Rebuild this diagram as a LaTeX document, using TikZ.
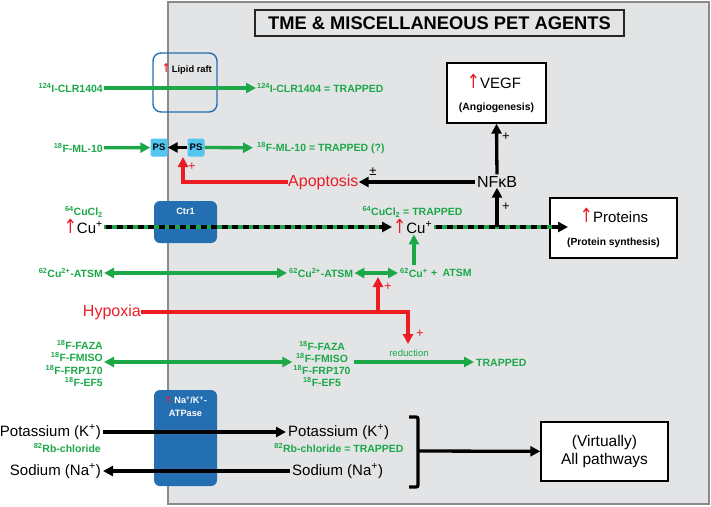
\documentclass[tikz,border=0pt]{standalone}
\usepackage{fontspec}
\setmainfont{Liberation Sans}
\newfontfamily\arrfont{DejaVu Sans}
\usetikzlibrary{arrows.meta}
\definecolor{grn}{RGB}{28,168,72}
\definecolor{rd}{RGB}{236,28,36}
\definecolor{bl}{RGB}{36,110,178}
\definecolor{psb}{RGB}{84,196,240}
\definecolor{pan}{RGB}{227,228,230}
\definecolor{edge}{RGB}{138,138,140}
\newcommand{\supx}[1]{\textsuperscript{#1}}
\newcommand{\fsz}[1]{\fontsize{#1}{#1}\selectfont}
\newcommand{\uparr}{{\arrfont\color{rd}\scalebox{1.05}[1.3]{↑}}}
\tikzset{
  gl/.style={font=\bfseries\fsz{10.5}, text=grn, inner sep=0pt},
  tip/.style={-{Triangle[length=10pt,width=10pt]}},
  dtip/.style={{Triangle[length=10pt,width=10pt]}-{Triangle[length=10pt,width=10pt]}},
  garrow/.style={grn, line width=3.3pt, tip},
  gdarrow/.style={grn, line width=3.3pt, dtip},
  barrow/.style={black, line width=3.3pt, tip},
  rarrow/.style={rd, line width=3.3pt, tip},
  rline/.style={rd, line width=3.3pt},
  bigtxt/.style={font=\fsz{15}, inner sep=0pt},
  whitebox/.style={draw=black, line width=1.4pt, fill=white},
  membox/.style={fill=bl, rounded corners=6pt},
  memtxt/.style={text=white, font=\bfseries\fsz{9.2}, inner sep=0pt, align=center},
  psbox/.style={fill=psb, rounded corners=2pt, minimum width=17pt, minimum height=18pt, inner sep=0pt, font=\bfseries\fsz{9.5}},
  plus/.style={font=\fsz{13}, inner sep=0pt},
  stack/.style={text=grn, inner sep=0pt, font=\bfseries\fontsize{10.5}{12.3}\selectfont},
}
\begin{document}
\begin{tikzpicture}[x=1pt,y=-1pt]
\useasboundingbox (0,0) rectangle (711,506);
% panel
\draw[fill=pan, draw=edge, line width=2.6pt] (168,2) rectangle (709,504);
% title
\node[draw=black!85, line width=1.2pt, fill=pan, minimum width=369pt, minimum height=26pt, inner sep=0pt, font=\bfseries\fsz{18.3}] (title) at (439.5,23) {TME \& MISCELLANEOUS PET AGENTS};

% lipid raft
\node[draw=bl, line width=1.4pt, rounded corners=8pt, minimum width=64pt, minimum height=59pt] (raft) at (185,82.5) {};
\node[font=\bfseries\fsz{9.3}, inner sep=0pt] (rafttxt) at (187,69) {\uparr\,Lipid raft};

% row 1
\node[gl, anchor=east] (clrL) at (103,88) {\supx{124}I-CLR1404};
\node[gl, anchor=west] (clrR) at (257,88) {\supx{124}I-CLR1404 = TRAPPED};
\draw[garrow, shorten >=1pt, shorten <=1pt] (clrL) -- (clrR);

% row 2
\node[gl, anchor=east] (mlL) at (103,148) {\supx{18}F-ML-10};
\node[psbox] (ps1) at (159,147.5) {PS};
\node[psbox] (ps2) at (196,147.5) {PS};
\node[gl, anchor=west] (mlR) at (257,148) {\supx{18}F-ML-10 = TRAPPED (?)};
\draw[garrow, shorten <=1pt] (mlL) -- (ps1);
\draw[barrow] (ps2) -- (ps1);
\draw[garrow, shorten >=4pt] (ps2) -- (mlR);

% apoptosis / NFkB
\node[font=\fsz{16}, text=rd, inner sep=0pt, anchor=west] (apop) at (288,182) {Apoptosis};
\node[font=\fsz{16}, inner sep=0pt] (nfkb) at (497,182) {NFκB};
\coordinate (psin) at (183,157);
\draw[rarrow] (apop.west) -| (psin);
\node[plus, text=rd] (p1) at (192,167) {+};
\draw[barrow, shorten <=2pt] (nfkb.west) -- (apop.east);
\node[plus] (pm) at (373,172) {±};

% VEGF
\node[whitebox, minimum width=99pt, minimum height=60pt] (vegf) at (496.5,93) {};
\node[font=\fsz{15}, inner sep=0pt] (vegft) at (494,81) {\uparr VEGF};
\node[font=\bfseries\fsz{10.4}, inner sep=0pt] (angio) at (496.5,108) {(Angiogenesis)};
\draw[barrow, shorten <=2pt] (nfkb.north) -- (vegf.south);
\node[plus] (p2) at (506,137) {+};

% row 3 copper
\node[gl, anchor=east] (cuclL) at (103,212) {\supx{64}CuCl\textsubscript{2}};
\node[bigtxt, anchor=east] (cuL) at (103,226) {\uparr Cu\supx{+}};
\node[membox, minimum width=63pt, minimum height=42pt] (ctr1) at (185.5,222) {};
\node[memtxt] (ctr1t) at (185.5,211) {Ctr1};
\node[gl, anchor=center] (cuclR) at (412.5,212) {\supx{64}CuCl\textsubscript{2} = TRAPPED};
\node[bigtxt, anchor=west] (cuR) at (393,226) {\uparr Cu\supx{+}};
\node[whitebox, minimum width=127pt, minimum height=60pt] (prot) at (613.5,228) {};
\node[font=\fsz{15}, inner sep=0pt] (prott) at (614,215) {\uparr Proteins};
\node[font=\bfseries\fsz{10.3}, inner sep=0pt] (protsyn) at (613.5,243) {(Protein synthesis)};
\coordinate (protin) at (568,227);
\coordinate (cuLe) at (104,227);
\coordinate (cuRw) at (392,227);
\coordinate (cuRe) at (434,227);
\draw[grn, line width=3.3pt, shorten >=8pt] (cuLe) -- (cuRw);
\draw[black, line width=3.3pt, dash pattern=on 6pt off 4.5pt, tip, shorten <=2pt] (cuLe) -- (cuRw);
\draw[grn, line width=3.3pt, shorten >=8pt] (cuRe) -- (protin);
\draw[black, line width=3.3pt, dash pattern=on 6pt off 4.5pt, tip, shorten <=2pt] (cuRe) -- (protin);
\coordinate (j1) at (497,227);
\draw[barrow] (j1) -- (nfkb.south);
\node[plus] (p3) at (506,207) {+};

% row 4 ATSM
\node[gl, anchor=east] (atsmL) at (103,273) {\supx{62}Cu\supx{2+}-ATSM};
\node[gl, anchor=west] (atsmM) at (289,273) {\supx{62}Cu\supx{2+}-ATSM};
\node[gl, anchor=west] (cu62) at (400,273) {\supx{62}Cu\supx{+}};
\node[gl, anchor=west] (atsmR) at (431,273) {+\enspace ATSM};
\draw[gdarrow, shorten <=1pt, shorten >=2pt] (atsmL) -- (atsmM);
\draw[gdarrow, shorten <=1pt, shorten >=2pt] (atsmM) -- (cu62);
\draw[garrow, shorten <=3pt, shorten >=1pt] (cu62.north) -- (cu62.north |- cuR.south);

% hypoxia
\node[font=\fsz{16}, text=rd, inner sep=0pt, anchor=east] (hyp) at (141,312) {Hypoxia};
\coordinate (hj1) at (378,312);
\coordinate (hup) at (378,277);
\coordinate (hdn) at (408,344);
\draw[rline] (hyp.east) -- (408,312) -- (408,334);
\draw[rarrow] (408,330) -- (hdn);
\draw[rarrow] (hj1) -- (hup);
\node[plus, text=rd] (p4) at (388,287) {+};
\node[plus, text=rd] (p5) at (420,334) {+};
\node[font=\fsz{9.6}, text=grn, inner sep=0pt] (redu) at (409,353) {reduction};

% row 5 nitroimidazoles
\node[stack, anchor=east, align=right] (fazaL) at (103,363.5) {\supx{18}F-FAZA\\{}\supx{18}F-FMISO\\{}\supx{18}F-FRP170\\{}\supx{18}F-EF5};
\node[stack, align=center] (fazaM) at (322,364) {\supx{18}F-FAZA\\{}\supx{18}F-FMISO\\{}\supx{18}F-FRP170\\{}\supx{18}F-EF5};
\node[gl, anchor=west] (trap) at (476,363) {TRAPPED};
\draw[gdarrow, shorten <=1pt, shorten >=1pt] (fazaL.east |- 0,362) -- (fazaM.west |- 0,362);
\draw[garrow, shorten <=3pt, shorten >=2pt] (fazaM.east |- 0,362) -- (trap.west |- 0,362);

% Na/K ATPase
\node[membox, minimum width=63pt, minimum height=96pt] (atp) at (185.5,438) {};
\node[memtxt, font=\bfseries\fontsize{9.2}{12.8}\selectfont] (atpt) at (185.5,406.5) {{\arrfont\color{rd}↑} Na\supx{+}/K\supx{+}-\\{}ATPase};

% row 6/7
\node[bigtxt, anchor=east] (kL) at (101,432) {Potassium (K\supx{+})};
\node[bigtxt, anchor=west] (kM) at (288,432) {Potassium (K\supx{+})};
\node[gl, anchor=east] (rbL) at (101,448) {\supx{82}Rb-chloride};
\node[gl] (rbM) at (339,448) {\supx{82}Rb-chloride = TRAPPED};
\draw[barrow, shorten <=2pt, shorten >=2pt] (kL) -- (kM);
\node[bigtxt, anchor=east] (naL) at (101,471) {Sodium (Na\supx{+})};
\node[bigtxt, anchor=west] (naM) at (292,471) {Sodium (Na\supx{+})};
\draw[barrow, shorten <=2pt, shorten >=2pt] (naM) -- (naL);

% bracket
\draw[line width=3.3pt, rounded corners=2pt] (409,417) -- (418,417) -- (418,487) -- (409,487);
\coordinate (br) at (418,451);
\node[whitebox, minimum width=127pt, minimum height=59pt, font=\fontsize{15.5}{17.5}\selectfont, align=center] (all) at (604.5,451.5) {(Virtually)\\{}All pathways};
\draw[barrow] (br) -- (all);
\end{tikzpicture}
\end{document}
